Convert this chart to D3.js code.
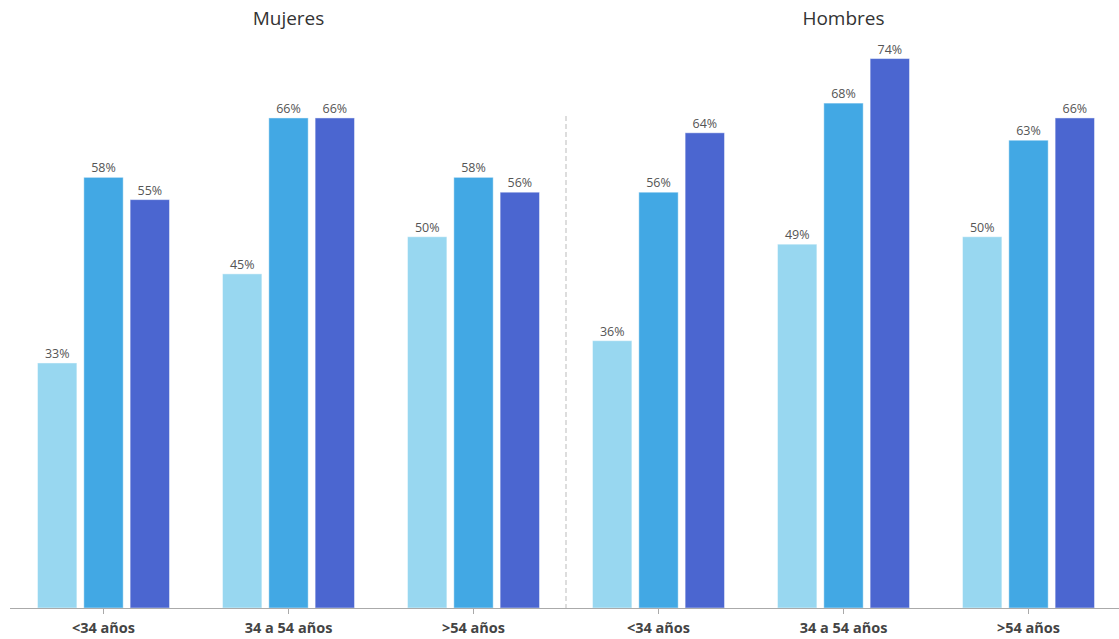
<!DOCTYPE html>
<html><head><meta charset="utf-8">
<script src="https://cdn.jsdelivr.net/npm/d3@7"></script>
<style>body{margin:0;background:#fff;} svg{display:block;font-family:"Open Sans",sans-serif;}</style>
</head><body>
<svg id="c" width="1119" height="639"></svg>
<script>
const panels = ["Mujeres", "Hombres"];
const ageGroups = ["<34 años", "34 a 54 años", ">54 años"];
const seriesKeys = ["s1", "s2", "s3"];
const mujeresValues = [[33, 58, 55], [45, 66, 66], [50, 58, 56]];
const hombresValues = [[36, 56, 64], [49, 68, 74], [50, 63, 66]];
const colors = ["#98D7F0", "#42A8E4", "#4B66D0"];

const svg = d3.select("#c");
const base = 608;
const groups = [];
panels.forEach((p, pi) => ageGroups.forEach((a, ai) => groups.push({id: p + "|" + a, panel: p, age: a, vals: (pi === 0 ? mujeresValues : hombresValues)[ai]})));

const x = d3.scaleBand().domain(groups.map(g => g.id)).range([11, 1121]);
const y = d3.scaleLinear().domain([0, 80]).range([base, 14]);
const xs = d3.scaleBand().domain(seriesKeys).range([-66, 66]).paddingInner(0.15);

// divider
svg.append("line").attr("x1", x(groups[3].id)).attr("x2", x(groups[3].id))
  .attr("y1", 116).attr("y2", base).attr("stroke", "#bbb").attr("stroke-dasharray", "5,3");

// titles
panels.forEach((p, pi) => {
  const c = (x(groups[pi*3].id) + x(groups[pi*3+2].id) + x.bandwidth()) / 2;
  svg.append("text").attr("x", c).attr("y", 25).attr("text-anchor", "middle")
    .attr("font-size", 19).attr("fill", "#333").text(p);
});

const g = svg.selectAll(".grp").data(groups).join("g")
  .attr("transform", d => `translate(${x(d.id) + x.bandwidth()/2},0)`);
g.selectAll("rect").data(d => d.vals.map((v, i) => ({k: seriesKeys[i], v, i}))).join("rect")
  .attr("x", d => xs(d.k)).attr("width", xs.bandwidth())
  .attr("y", d => y(d.v)).attr("height", d => base - y(d.v))
  .attr("fill", d => colors[d.i]).attr("stroke", "rgba(255,255,255,0.45)").attr("stroke-width", 1);
g.selectAll("text.v").data(d => d.vals.map((v, i) => ({k: seriesKeys[i], v, i}))).join("text")
  .attr("class", "v").attr("x", d => xs(d.k) + xs.bandwidth()/2).attr("y", d => y(d.v) - 5)
  .attr("text-anchor", "middle").attr("font-size", 12.5).attr("fill", "#555").text(d => d.v + "%");

// axis
const ax = svg.append("g").attr("transform", `translate(0,${base})`)
  .call(d3.axisBottom(x).tickSize(6).tickPadding(9).tickFormat(id => id.split("|")[1]));
ax.select(".domain").attr("stroke", "#aaa").attr("d", `M10,0.5H1119`);
ax.selectAll(".tick line").attr("stroke", "#aaa");
ax.selectAll(".tick text").attr("font-size", 14.5).attr("font-weight", "bold").attr("fill", "#444")
  .attr("font-family", "'Open Sans',sans-serif");
</script>
</body></html>
